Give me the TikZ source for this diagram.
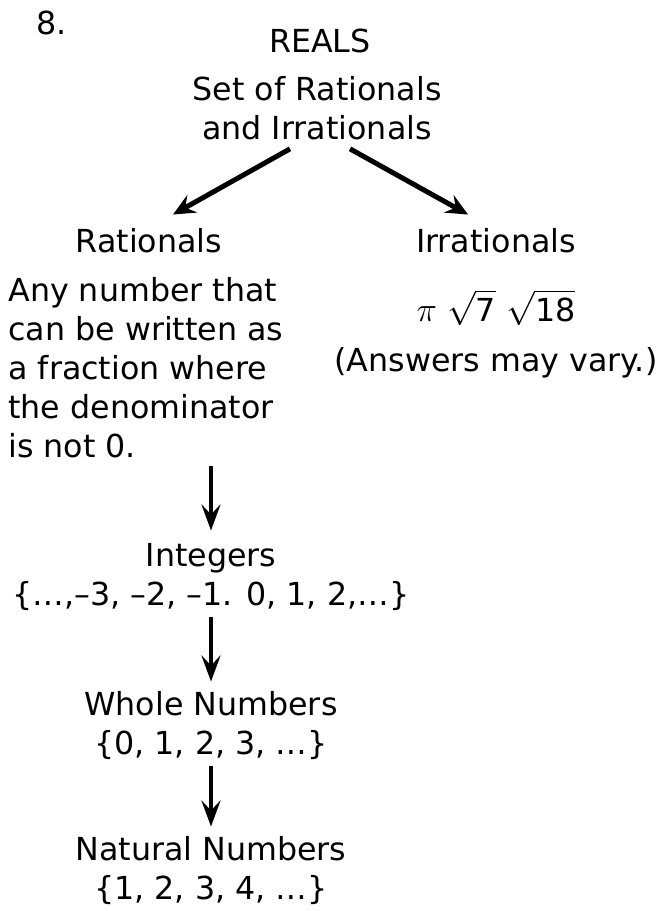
\documentclass[tikz,border=0pt]{standalone}
\usepackage{fontspec}
\setmainfont{DejaVu Sans}
\usetikzlibrary{arrows.meta,positioning,calc}
\newcommand{\bodysize}{\fontsize{15.85}{19.5}\selectfont}
\tikzset{
  txt/.style={inner sep=0pt,anchor=base,font=\bodysize},
  twoline/.style={txt,align=center},
  para/.style={txt,align=left,anchor=base west},
  bigarrow/.style={-{Stealth[length=11pt,width=10pt,inset=4pt]},line width=2.5pt},
  downarrow/.style={-{Stealth[length=13pt,width=9.5pt,inset=5pt]},line width=2pt}
}

\begin{document}
\begin{tikzpicture}[x=0.5pt,y=-0.5pt]
  \useasboundingbox (0,0) rectangle (658,911);
  \node[txt,anchor=base west] (num) at (36,34) {8.};
  \node[txt] (reals) at (320,52) {REALS};
  % multi-line nodes sit on the baseline of their last line
  \node[twoline] (sets) at (317,139) {Set of Rationals\\and Irrationals};
  \node[txt] (rat) at (149,252) {Rationals};
  \node[txt] (irr) at (496,252) {Irrationals};
  \node[para] (ratdef) at (8,457) {Any number that\\can be written as\\a fraction where\\the denominator\\is not 0.};
  \node[txt] (irrex) at (496,321) {$\pi\ \sqrt{\mbox{7}}\ \sqrt{\mbox{18}}$};
  \node[txt] (vary) at (496,371) {(Answers may vary.)};
  \node[twoline] (int) at (211,605) {Integers\\\{…,–3, –2, –1. 0, 1, 2,…\}};
  \node[twoline] (whole) at (211,754) {Whole Numbers\\\{0, 1, 2, 3, …\}};
  \node[twoline] (nat) at (211,899) {Natural Numbers\\\{1, 2, 3, 4, …\}};
  % the two branches
  \draw[bigarrow] ($(sets.south)+(-27,9)$) -- ($(rat.north)+(24,-13)$);
  \draw[bigarrow] ($(sets.south)+(33,9)$) -- ($(irr.north)+(-28,-13)$);
  % chain down the left side
  \draw[downarrow,shorten <=4pt,shorten >=6pt] (ratdef.south -| int) -- (int);
  \draw[downarrow,shorten <=3pt,shorten >=4.5pt] (int) -- (whole);
  \draw[downarrow,shorten <=3pt,shorten >=4.5pt] (whole) -- (nat);
\end{tikzpicture}
\end{document}
